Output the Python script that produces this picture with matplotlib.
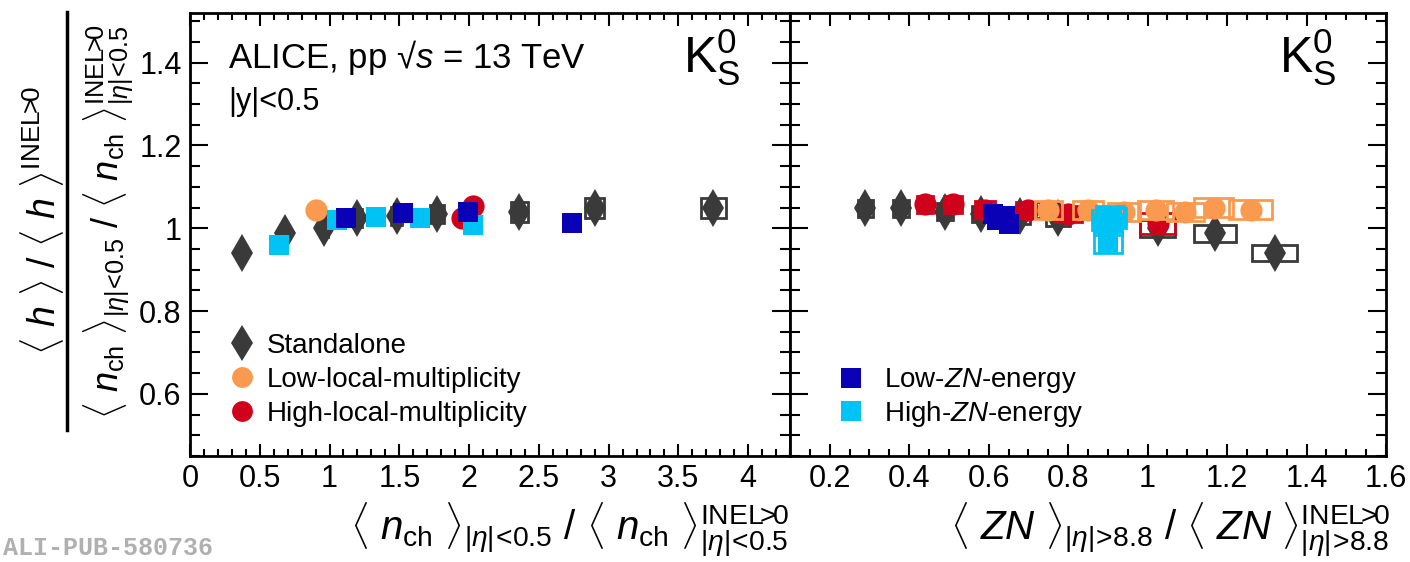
import matplotlib.pyplot as plt
from matplotlib.patches import Rectangle
from matplotlib.lines import Line2D
from matplotlib.ticker import MultipleLocator

plt.rcParams['font.family'] = ['Liberation Sans', 'DejaVu Sans']
plt.rcParams['mathtext.fontset'] = 'custom'
plt.rcParams['mathtext.rm'] = 'Liberation Sans'
plt.rcParams['mathtext.it'] = 'Liberation Sans:italic'
plt.rcParams['mathtext.bf'] = 'Liberation Sans:bold'

# ---- left panel: vs <n_ch> ----
std_x = [0.37, 0.68, 0.96, 1.20, 1.48, 1.77, 2.36, 2.90, 3.75]
std_y = [0.94, 0.988, 1.00, 1.025, 1.03, 1.035, 1.04, 1.048, 1.048]
std_sx = [0.02, 0.02, 0.03, 0.03, 0.04, 0.05, 0.06, 0.068, 0.09]
std_sy = [0.022, 0.022, 0.022, 0.022, 0.022, 0.022, 0.024, 0.024, 0.024]

low_loc_x = [0.90]
low_loc_y = [1.045]

high_loc_x = [1.95, 1.99, 2.03]
high_loc_y = [1.025, 1.04, 1.055]

low_zn_x = [1.12, 1.53, 1.99, 2.74]
low_zn_y = [1.025, 1.038, 1.04, 1.012]

high_zn_x = [0.635, 1.05, 1.33, 1.65, 2.03]
high_zn_y = [0.96, 1.02, 1.028, 1.025, 1.008]

# ---- right panel: vs <ZN> ----
zn_std_x = [1.32, 1.17, 1.025, 0.775, 0.68, 0.58, 0.49, 0.38, 0.29]
zn_std_y = [0.94, 0.988, 1.00, 1.025, 1.03, 1.035, 1.04, 1.048, 1.048]
zn_std_sx = [0.057, 0.052, 0.045, 0.03, 0.025, 0.022, 0.021, 0.02, 0.02]
zn_std_sy = [0.02, 0.02, 0.02, 0.02, 0.02, 0.02, 0.02, 0.02, 0.02]

zn_low_loc_x = [0.75, 0.85, 0.94, 1.02, 1.095, 1.166, 1.26]
zn_low_loc_y = [1.045, 1.045, 1.04, 1.045, 1.04, 1.05, 1.045]
zn_low_loc_sx = [0.034, 0.038, 0.04, 0.044, 0.046, 0.05, 0.054]
zn_low_loc_sy = [0.022, 0.022, 0.022, 0.022, 0.022, 0.023, 0.023]

zn_high_loc_x = [0.44, 0.51, 0.59, 0.70, 0.80, 1.025]
zn_high_loc_y = [1.058, 1.058, 1.045, 1.044, 1.034, 1.012]
zn_high_loc_sx = [0.02, 0.022, 0.025, 0.03, 0.034, 0.045]
zn_high_loc_sy = [0.02, 0.02, 0.02, 0.02, 0.02, 0.025]

zn_low_zn_x = [0.61, 0.62, 0.64, 0.65]
zn_low_zn_y = [1.035, 1.02, 1.03, 1.01]

zn_high_zn_x = [0.90, 0.895, 0.905, 0.91, 0.90]
zn_high_zn_y = [0.965, 1.02, 1.03, 1.025, 1.01]
zn_high_zn_sx = [0.035, 0.035, 0.035, 0.035, 0.035]
zn_high_zn_sy = [0.025, 0.025, 0.025, 0.025, 0.025]

c_std = '#3a3a3a'
c_orange = '#f99a50'
c_red = '#d0021b'
c_blue = '#0a00b5'
c_cyan = '#00c3f5'

INEL = r'\mathrm{INEL}\!\!>\!\!0'
ETA_LT = r'|\eta|\!<\!0.5'
ETA_GT = r'|\eta|\!>\!8.8'


def sys_boxes(ax, xs, ys, sx, sy, color, z):
    for x, y, dx, dy in zip(xs, ys, sx, sy):
        ax.add_patch(Rectangle((x - dx, y - dy), 2 * dx, 2 * dy, fill=False,
                               edgecolor=color, lw=2, zorder=z))


def style(ax, xmaj, xmin):
    ax.set_ylim(0.45, 1.52)
    ax.xaxis.set_major_locator(MultipleLocator(xmaj))
    ax.xaxis.set_minor_locator(MultipleLocator(xmin))
    ax.yaxis.set_major_locator(MultipleLocator(0.2))
    ax.yaxis.set_minor_locator(MultipleLocator(0.05))
    ax.tick_params(which='both', direction='in', top=True, right=True,
                   labelsize=22, width=1.5, pad=6)
    ax.tick_params(axis='y', which='major', length=13)
    ax.tick_params(axis='y', which='minor', length=7)
    ax.tick_params(axis='x', which='major', length=9)
    ax.tick_params(axis='x', which='minor', length=5)
    for s in ax.spines.values():
        s.set_linewidth(2)


fig = plt.figure(figsize=(14.1, 5.62), dpi=100)
ax1 = fig.add_axes([190 / 1410, 106 / 562, 600 / 1410, 443 / 562])
ax2 = fig.add_axes([790 / 1410, 106 / 562, 596 / 1410, 443 / 562])

# left panel
sys_boxes(ax1, std_x, std_y, std_sx, std_sy, c_std, 2)
ax1.plot(std_x, std_y, 'd', color=c_std, ms=19, mew=0, zorder=3)
ax1.plot(low_loc_x, low_loc_y, 'o', color=c_orange, ms=16, mew=0, zorder=4)
ax1.plot(high_loc_x, high_loc_y, 'o', color=c_red, ms=16, mew=0, zorder=5)
ax1.plot(high_zn_x, high_zn_y, 's', color=c_cyan, ms=14, mew=0, zorder=6)
ax1.plot(low_zn_x, low_zn_y, 's', color=c_blue, ms=14, mew=0, zorder=7)
ax1.set_xlim(0, 4.3)
style(ax1, 0.5, 0.1)
ax1.set_xticks([0, 0.5, 1, 1.5, 2, 2.5, 3, 3.5, 4])
ax1.set_xticklabels(['0', '0.5', '1', '1.5', '2', '2.5', '3', '3.5', '4'])
ax1.set_yticks([0.6, 0.8, 1.0, 1.2, 1.4])
ax1.set_yticklabels(['0.6', '0.8', '1', '1.2', '1.4'])

# right panel
sys_boxes(ax2, zn_std_x, zn_std_y, zn_std_sx, zn_std_sy, c_std, 2)
ax2.plot(zn_std_x, zn_std_y, 'd', color=c_std, ms=19, mew=0, zorder=3)
sys_boxes(ax2, zn_high_loc_x, zn_high_loc_y, zn_high_loc_sx, zn_high_loc_sy, c_red, 4)
ax2.plot(zn_high_loc_x, zn_high_loc_y, 'o', color=c_red, ms=16, mew=0, zorder=4)
sys_boxes(ax2, zn_low_loc_x, zn_low_loc_y, zn_low_loc_sx, zn_low_loc_sy, c_orange, 5)
ax2.plot(zn_low_loc_x, zn_low_loc_y, 'o', color=c_orange, ms=16, mew=0, zorder=5)
sys_boxes(ax2, zn_high_zn_x, zn_high_zn_y, zn_high_zn_sx, zn_high_zn_sy, c_cyan, 6)
ax2.plot(zn_high_zn_x, zn_high_zn_y, 's', color=c_cyan, ms=14, mew=0, zorder=6)
ax2.plot(zn_low_zn_x, zn_low_zn_y, 's', color=c_blue, ms=15, mew=0, zorder=7)
ax2.set_xlim(0.1, 1.6)
style(ax2, 0.2, 0.05)
ax2.set_xticks([0.2, 0.4, 0.6, 0.8, 1.0, 1.2, 1.4, 1.6])
ax2.set_xticklabels(['0.2', '0.4', '0.6', '0.8', '1', '1.2', '1.4', '1.6'])
ax2.tick_params(axis='y', labelleft=False)

# legends
h1 = [Line2D([], [], ls='', marker='d', color=c_std, ms=18, mew=0),
      Line2D([], [], ls='', marker='o', color=c_orange, ms=15, mew=0),
      Line2D([], [], ls='', marker='o', color=c_red, ms=15, mew=0)]
ax1.legend(h1, ['Standalone', 'Low-local-multiplicity', 'High-local-multiplicity'],
           loc='lower left', bbox_to_anchor=(0.045, 0.035), frameon=False,
           fontsize=20, handlelength=0.8, handletextpad=0.5, labelspacing=0.28,
           borderpad=0)
h2 = [Line2D([], [], ls='', marker='s', color=c_blue, ms=15, mew=0),
      Line2D([], [], ls='', marker='s', color=c_cyan, ms=15, mew=0)]
ax2.legend(h2, ['Low-$\\mathit{ZN}$-energy', 'High-$\\mathit{ZN}$-energy'],
           loc='lower left', bbox_to_anchor=(0.06, 0.03), frameon=False,
           fontsize=20, handlelength=0.8, handletextpad=0.8, labelspacing=0.12,
           borderpad=0)

# annotations
ax1.text(0.063, 0.9, 'ALICE, pp √$s$ = 13 TeV', transform=ax1.transAxes,
         fontsize=25, va='center', ha='left')
ax1.text(0.063, 0.8, '|y|<0.5', transform=ax1.transAxes,
         fontsize=22, va='center', ha='left')
for ax in (ax1, ax2):
    ax.text(0.917, 0.9, r'$\mathrm{K}^{0}_{\mathrm{S}}$', transform=ax.transAxes,
            fontsize=36, ha='right', va='center')

# axis titles
fig.text(790 / 1410, 0.003,
         r'$\langle\ n_{\mathrm{ch}}\ \rangle_{' + ETA_LT + r'}\ /\ \langle\ n_{\mathrm{ch}}\ \rangle^{'
         + INEL + r'}_{' + ETA_LT + r'}$',
         fontsize=29, ha='right', va='bottom')
fig.text(1390 / 1410, 0.003,
         r'$\langle\ ZN\ \rangle_{' + ETA_GT + r'}\ /\ \langle\ ZN\ \rangle^{'
         + INEL + r'}_{' + ETA_GT + r'}$',
         fontsize=29, ha='right', va='bottom')

fig.text(42 / 1410, 1 - 220 / 562,
         r'$\langle\ h\ \rangle\ /\ \langle\ h\ \rangle^{' + INEL + r'}$',
         fontsize=27, rotation=90, ha='center', va='center')
fig.add_artist(Line2D([67 / 1410, 67 / 1410], [1 - 430 / 562, 1 - 12 / 562],
                      color='black', lw=2.5))
fig.text(108 / 1410, 1 - 222 / 562,
         r'$\langle\ n_{\mathrm{ch}}\ \rangle_{' + ETA_LT + r'}\ /\ \langle\ n_{\mathrm{ch}}\ \rangle^{'
         + INEL + r'}_{' + ETA_LT + r'}$',
         fontsize=26, rotation=90, ha='center', va='center')

fig.text(0.002, 0.004, 'ALI-PUB-580736', fontsize=18, family='Liberation Mono',
         weight='bold', color='#b0b0b0', ha='left', va='bottom')

fig.savefig('out.png', dpi=100)
